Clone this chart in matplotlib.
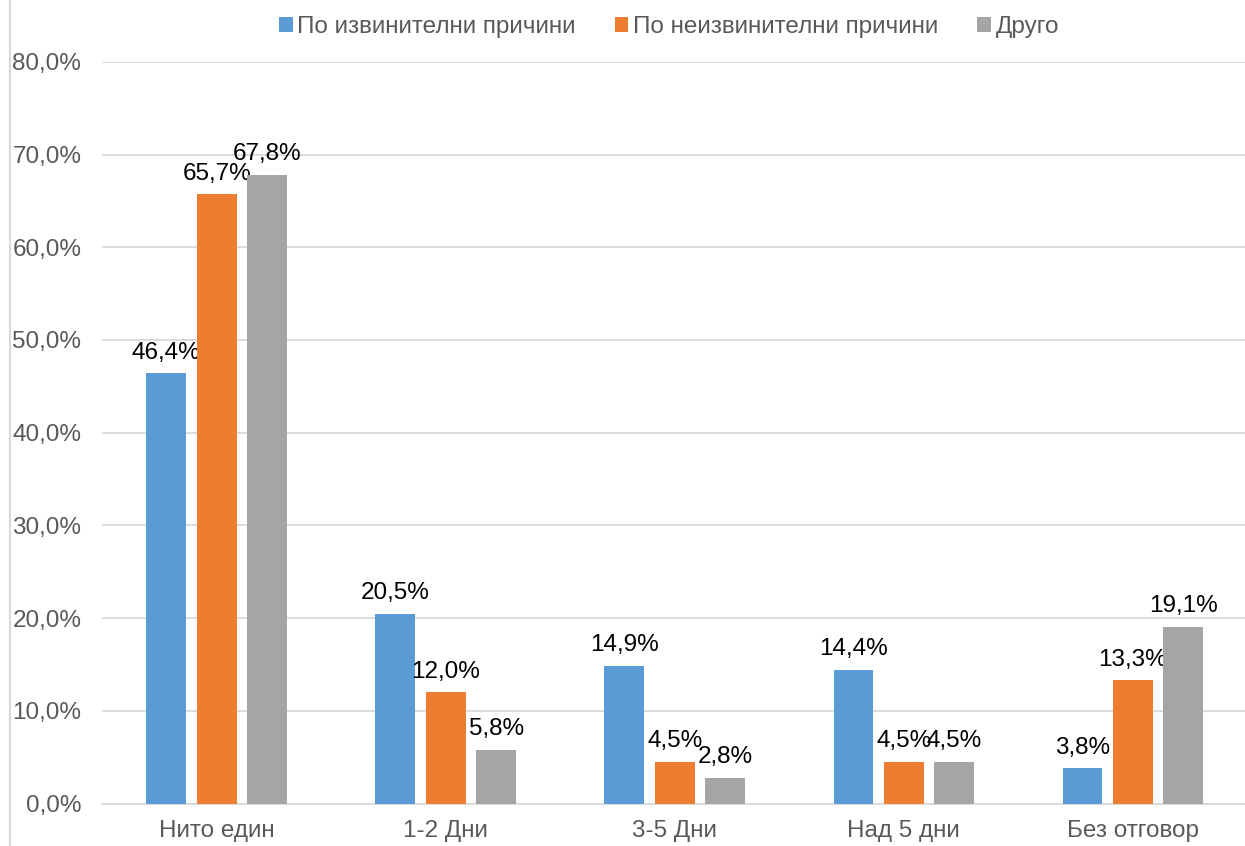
import matplotlib.pyplot as plt
import numpy as np
from matplotlib.lines import Line2D

plt.rcParams['font.family'] = ['Liberation Sans', 'DejaVu Sans']

categories = ["Нито един", "1-2 Дни", "3-5 Дни", "Над 5 дни", "Без отговор"]
series_names = ["По извинителни причини", "По неизвинителни причини", "Друго"]
excused = [46.4, 20.5, 14.9, 14.4, 3.8]
unexcused = [65.7, 12.0, 4.5, 4.5, 13.3]
other = [67.8, 5.8, 2.8, 4.5, 19.1]
colors = ["#5b9bd5", "#ed7d31", "#a5a5a5"]

TEXT_GRAY = "#595959"
FS = 17.5

fig = plt.figure(figsize=(12.45, 8.46), dpi=100)
ax = fig.add_axes([0.082, 0.05, 0.92, 0.877])

x = np.arange(len(categories))
width = 0.174
step = 0.22
for i, (vals, name, col) in enumerate(zip([excused, unexcused, other], series_names, colors)):
    pos = x + (i - 1) * step
    bars = ax.bar(pos, vals, width=width, color=col, label=name, zorder=3)
    for b, v in zip(bars, vals):
        ax.annotate(f"{v:.1f}%".replace(".", ","),
                    xy=(b.get_x() + b.get_width() / 2, v),
                    xytext=(0, 7), textcoords="offset points",
                    ha="center", va="bottom", fontsize=FS, color="black")

ax.set_xlim(-0.5, len(categories) - 0.5)
ax.set_ylim(0, 80)
ax.set_yticks(np.arange(0, 81, 10))
ax.set_yticklabels([f"{t:.1f}%".replace(".", ",") for t in np.arange(0, 81, 10)])
ax.set_xticks(x)
ax.set_xticklabels(categories)
ax.tick_params(axis="both", length=0, labelsize=FS, colors=TEXT_GRAY)
ax.tick_params(axis="x", pad=12)
ax.tick_params(axis="y", pad=15)
ax.grid(True, axis="y", color="#d9d9d9", linewidth=1.3, zorder=0)
for s in ["top", "right", "left"]:
    ax.spines[s].set_visible(False)
ax.spines["bottom"].set_color("#d9d9d9")
ax.spines["bottom"].set_linewidth(1.3)

leg = ax.legend(loc="center", bbox_to_anchor=(0.495, 1.047), ncol=3, frameon=False,
                fontsize=FS, handlelength=0.55, handleheight=0.55, handletextpad=0.2,
                columnspacing=1.6)
for t in leg.get_texts():
    t.set_color(TEXT_GRAY)

fig.add_artist(Line2D([0.008, 0.008], [0, 1], color="#d9d9d9", linewidth=1.5,
                      transform=fig.transFigure))

fig.savefig("out.png", dpi=100)
